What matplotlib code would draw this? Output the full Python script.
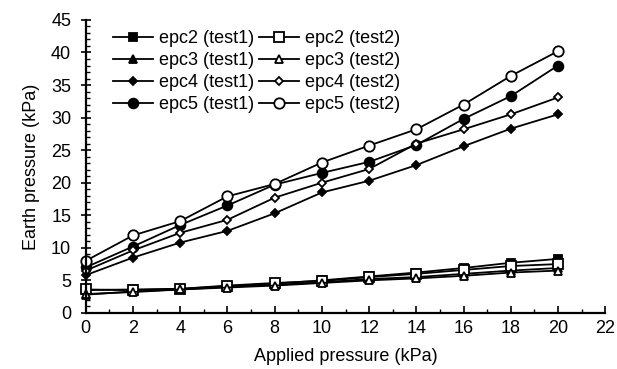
import matplotlib.pyplot as plt
from matplotlib.ticker import MultipleLocator

plt.rcParams['font.family'] = ['Liberation Sans', 'DejaVu Sans']

pressure = [0, 2, 4, 6, 8, 10, 12, 14, 16, 18, 20]

epc2_t1 = [3.5, 3.6, 3.7, 4.1, 4.5, 5.0, 5.6, 6.2, 6.9, 7.7, 8.3]
epc2_t2 = [3.6, 3.5, 3.7, 4.2, 4.6, 4.9, 5.5, 6.0, 6.6, 7.2, 7.5]
epc3_t1 = [2.8, 3.3, 3.6, 4.0, 4.3, 4.7, 5.2, 5.5, 6.0, 6.5, 6.9]
epc3_t2 = [2.9, 3.2, 3.6, 3.9, 4.2, 4.6, 5.0, 5.3, 5.7, 6.2, 6.5]
epc4_t1 = [5.8, 8.5, 10.8, 12.6, 15.3, 18.5, 20.3, 22.7, 25.6, 28.3, 30.5]
epc4_t2 = [6.5, 9.6, 12.3, 14.3, 17.7, 20.0, 22.1, 26.0, 28.2, 30.5, 33.1]
epc5_t1 = [7.0, 10.2, 13.5, 16.5, 19.7, 21.5, 23.2, 25.8, 29.8, 33.3, 38.0]
epc5_t2 = [8.0, 11.9, 14.1, 17.9, 19.8, 23.1, 25.7, 28.2, 32.0, 36.4, 40.2]

fig = plt.figure(figsize=(6.17, 3.69), dpi=100)
ax = fig.add_axes([0.139, 0.152, 0.842, 0.794])

series = [
    (epc2_t1, "epc2 (test1)", "s", "black", 5.5),
    (epc3_t1, "epc3 (test1)", "^", "black", 5.5),
    (epc4_t1, "epc4 (test1)", "D", "black", 4.5),
    (epc5_t1, "epc5 (test1)", "o", "black", 7),
    (epc2_t2, "epc2 (test2)", "s", "white", 6.5),
    (epc3_t2, "epc3 (test2)", "^", "white", 5.5),
    (epc4_t2, "epc4 (test2)", "D", "white", 4.5),
    (epc5_t2, "epc5 (test2)", "o", "white", 7.5),
]
for vals, label, marker, face, ms in series:
    ax.plot(pressure, vals, color="black", linewidth=1.3, marker=marker,
            markersize=ms, markerfacecolor=face, markeredgecolor="black",
            markeredgewidth=1.3, label=label, clip_on=False)

ax.set_xlim(0, 22)
ax.set_ylim(0, 45)
ax.xaxis.set_major_locator(MultipleLocator(2))
ax.xaxis.set_minor_locator(MultipleLocator(1))
ax.yaxis.set_major_locator(MultipleLocator(5))
ax.yaxis.set_minor_locator(MultipleLocator(1))
ax.tick_params(which="major", direction="in", length=5, width=1.2, labelsize=13)
ax.tick_params(axis="y", which="major", direction="inout", length=7, pad=7)
ax.tick_params(axis="x", which="major", pad=5)
ax.tick_params(which="minor", direction="in", length=3, width=1)
for side in ("top", "right"):
    ax.spines[side].set_visible(False)
for side in ("left", "bottom"):
    ax.spines[side].set_linewidth(1.6)

ax.set_xlabel("Applied pressure (kPa)", fontsize=13, labelpad=8)
ax.set_ylabel("Earth pressure (kPa)", fontsize=13, labelpad=8)

ax.legend(ncol=2, frameon=False, loc="upper left", bbox_to_anchor=(0.033, 1.0),
          fontsize=13, handlelength=2.2, handletextpad=0.35,
          columnspacing=0.3, labelspacing=0.28, borderaxespad=0.15)

fig.savefig("out.png", dpi=100)
